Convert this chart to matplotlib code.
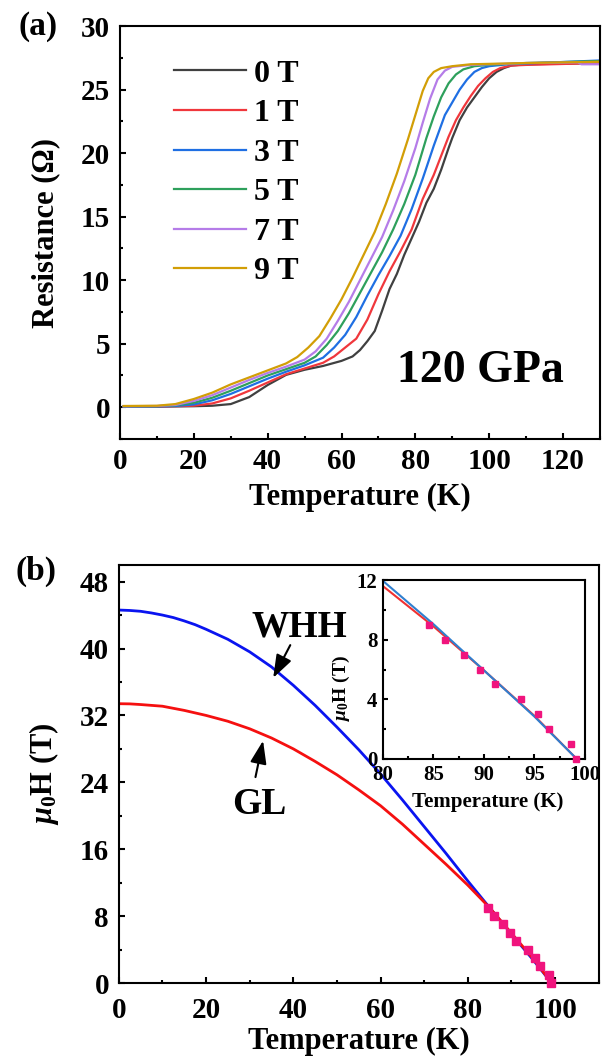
"""
Resistance vs temperature at 120 GPa and upper critical field fits
"""

import matplotlib
matplotlib.use("Agg")
import matplotlib.pyplot as plt
from matplotlib.ticker import MultipleLocator

plt.rcParams["font.family"] = ["Liberation Serif", "DejaVu Serif"]
plt.rcParams["font.weight"] = "bold"
plt.rcParams["mathtext.fontset"] = "custom"
plt.rcParams["mathtext.rm"] = "Liberation Serif:bold"
plt.rcParams["mathtext.it"] = "Liberation Serif:italic:bold"
plt.rcParams["mathtext.bf"] = "Liberation Serif:bold"

# ---- panel (a): R(T) under field ----
field_labels = ["0 T", "1 T", "3 T", "5 T", "7 T", "9 T"]
field_colors = ["#404040", "#f0373c", "#1f6fe3", "#2ea05c", "#b57ce8", "#d29e06"]

t_0T = [1, 10, 20, 25, 30, 35, 40, 45, 50, 55, 60, 63, 65, 67, 69, 71, 73, 75, 77, 79,
        81, 83, 85, 87, 89, 90, 92, 94, 96, 98, 100, 102, 104, 106, 110, 120, 130]
r_0T = [0.05, 0.05, 0.08, 0.12, 0.25, 0.8, 1.75, 2.55, 2.95, 3.25, 3.65, 4.0, 4.5, 5.2,
        6.0, 7.6, 9.3, 10.5, 12.0, 13.3, 14.6, 16.1, 17.2, 18.7, 20.4, 21.2, 22.6, 23.6,
        24.4, 25.2, 25.9, 26.4, 26.7, 26.9, 27.0, 27.05, 27.1]

t_1T = [1, 10, 20, 25, 30, 35, 40, 45, 50, 55, 58, 61, 64, 67, 70, 73, 76, 79, 82, 85,
        87, 89, 91, 93, 95, 97, 99, 101, 103, 106, 110, 130]
r_1T = [0.05, 0.05, 0.12, 0.3, 0.7, 1.3, 1.95, 2.6, 3.05, 3.5, 4.0, 4.7, 5.4, 6.9, 8.9,
        10.7, 12.3, 14.0, 16.4, 18.3, 19.8, 21.3, 22.6, 23.6, 24.5, 25.3, 25.9, 26.4,
        26.7, 26.9, 26.95, 27.1]

t_3T = [1, 10, 15, 20, 25, 30, 35, 40, 45, 50, 55, 58, 61, 64, 67, 70, 73, 76, 79, 82,
        85, 88, 90, 92, 94, 96, 98, 100, 105, 130]
r_3T = [0.05, 0.06, 0.1, 0.22, 0.55, 1.05, 1.65, 2.25, 2.8, 3.3, 3.9, 4.7, 5.7, 7.1, 8.8,
        10.4, 11.9, 13.5, 15.6, 18.0, 20.6, 23.0, 24.0, 25.0, 25.8, 26.4, 26.7, 26.85,
        27.0, 27.3]

t_5T = [1, 10, 15, 20, 25, 30, 35, 40, 45, 50, 53, 56, 59, 62, 65, 68, 71, 74, 77, 80,
        83, 85, 87, 89, 91, 93, 96, 100, 110, 130]
r_5T = [0.08, 0.08, 0.15, 0.35, 0.75, 1.3, 1.9, 2.5, 3.0, 3.5, 4.0, 4.9, 6.0, 7.4, 9.0,
        10.6, 12.2, 14.0, 16.0, 18.3, 21.2, 22.9, 24.4, 25.5, 26.2, 26.6, 26.85, 26.95,
        27.1, 27.25]

t_7T = [1, 10, 15, 20, 25, 30, 35, 40, 45, 50, 53, 56, 59, 62, 65, 68, 71, 74, 77, 80,
        82, 84, 86, 88, 90, 95, 110, 124, 125, 130]
r_7T = [0.08, 0.1, 0.18, 0.5, 0.95, 1.55, 2.15, 2.7, 3.2, 3.75, 4.4, 5.4, 6.8, 8.3, 10.0,
        11.7, 13.4, 15.5, 17.8, 20.4, 22.4, 24.3, 25.8, 26.5, 26.8, 26.95, 27.1, 27.15,
        27.0, 27.0]

t_9T = [1, 10, 15, 20, 25, 30, 35, 40, 45, 48, 51, 54, 57, 60, 63, 66, 69, 72, 75, 78,
        80, 82, 83.5, 85, 87, 90, 95, 110, 130]
r_9T = [0.1, 0.12, 0.25, 0.65, 1.15, 1.8, 2.35, 2.9, 3.45, 3.95, 4.7, 5.6, 7.0, 8.5, 10.2,
        12.0, 13.8, 16.0, 18.4, 21.1, 23.0, 24.9, 25.9, 26.4, 26.7, 26.85, 27.0, 27.1, 27.2]

# ---- panel (b): Hc2(T) ----
t_hc2 = [84.6, 86.1, 88.0, 89.6, 91.1, 93.7, 95.4, 96.5, 98.6, 99.1]
h_hc2 = [9, 8, 7, 6, 5, 4, 3, 2, 1, 0]

t_whh = [0, 2.5, 5, 7.5, 10, 12.5, 15, 17.5, 20, 25, 30, 35, 40, 45, 50, 55, 60, 65, 70,
         75, 80, 85, 90, 95, 99.2]
h_whh = [44.6, 44.55, 44.45, 44.25, 44.0, 43.7, 43.3, 42.85, 42.3, 41.1, 39.6, 37.8, 35.6,
         33.2, 30.6, 27.9, 25.0, 21.9, 18.7, 15.5, 12.2, 9.0, 5.85, 2.75, 0.0]

t_gl = [0, 2.5, 5, 7.5, 10, 12.5, 15, 17.5, 20, 25, 30, 35, 40, 45, 50, 55, 60, 65, 70,
        75, 80, 85, 90, 95, 99.2]
h_gl = [33.4, 33.38, 33.3, 33.2, 33.1, 32.85, 32.6, 32.3, 32.0, 31.3, 30.4, 29.3, 28.0,
        26.5, 24.9, 23.1, 21.2, 19.0, 16.6, 14.2, 11.7, 9.0, 5.95, 2.9, 0.0]

# inset fit lines
t_in = [80, 85, 90, 95, 99.2]
h_in_gl = [11.6, 8.9, 5.95, 2.9, 0.0]
h_in_whh = [11.95, 9.05, 5.95, 2.85, 0.0]


def style_axes(ax, lw=1.5, major=4.5, minor=2.5, size=21, xpad=6, ypad=6):
    for sp in ax.spines.values():
        sp.set_linewidth(lw)
    ax.tick_params(which="both", direction="in", width=lw, top=False, right=False)
    ax.tick_params(which="major", length=major, labelsize=size)
    ax.tick_params(which="minor", length=minor)
    ax.tick_params(axis="x", which="major", pad=xpad)
    ax.tick_params(axis="y", which="major", pad=ypad)


fig = plt.figure(figsize=(6.06, 10.64), dpi=100)

# panel (a)
ax1 = fig.add_axes([0.198, 0.5874, 0.792, 0.388])
curves = [(t_0T, r_0T), (t_1T, r_1T), (t_3T, r_3T), (t_5T, r_5T), (t_7T, r_7T), (t_9T, r_9T)]
for (t, r), lab, col in zip(curves, field_labels, field_colors):
    ax1.plot(t, r, color=col, lw=1.6, label=lab)
ax1.set_xlim(0, 130)
ax1.set_ylim(-2.5, 30)
ax1.xaxis.set_major_locator(MultipleLocator(20))
ax1.xaxis.set_minor_locator(MultipleLocator(10))
ax1.yaxis.set_major_locator(MultipleLocator(5))
ax1.yaxis.set_minor_locator(MultipleLocator(2.5))
style_axes(ax1, xpad=6.5, ypad=7)
ax1.set_xlabel("Temperature (K)", fontsize=22, fontweight="bold")
ax1.set_ylabel("Resistance (Ω)", fontsize=22, fontweight="bold")
ax1.xaxis.set_label_coords(0.5, -0.106)
ax1.yaxis.set_label_coords(-0.125, 0.5)
ax1.legend(loc="upper left", bbox_to_anchor=(0.1125, 0.92), frameon=False,
           fontsize=23, handlelength=2.25, handletextpad=0.25, labelspacing=0.32,
           borderpad=0, borderaxespad=0)
ax1.text(0.751, 0.165, "120 GPa", transform=ax1.transAxes, fontsize=33,
         fontweight="bold", ha="center", va="center")
fig.text(0.062, 0.975, "(a)", fontsize=24, fontweight="bold", ha="center", va="center")

# panel (b)
ax2 = fig.add_axes([0.196, 0.0761, 0.792, 0.393])
ax2.plot(t_whh, h_whh, color="#0a14f0", lw=2.0)
ax2.plot(t_gl, h_gl, color="#f51010", lw=2.0)
ax2.plot(t_hc2, h_hc2, "s", color="#f0147d", ms=5.5, clip_on=False, zorder=5)
ax2.set_xlim(0, 110)
ax2.set_ylim(0, 50)
ax2.xaxis.set_major_locator(MultipleLocator(20))
ax2.xaxis.set_minor_locator(MultipleLocator(10))
ax2.yaxis.set_major_locator(MultipleLocator(8))
ax2.yaxis.set_minor_locator(MultipleLocator(4))
style_axes(ax2, xpad=10, ypad=7)
ax2.set_xlabel("Temperature (K)", fontsize=22, fontweight="bold")
ax2.set_ylabel(r"$\mu_\mathrm{0}$H (T)", fontsize=22, fontweight="bold")
ax2.xaxis.set_label_coords(0.5, -0.105)
ax2.yaxis.set_label_coords(-0.12, 0.5)
ax2.annotate("", xy=(35.1, 36.2), xytext=(39.6, 40.7),
             arrowprops=dict(arrowstyle="-|>,head_length=0.7,head_width=0.25",
                             color="k", lw=1.5, mutation_scale=20))
ax2.annotate("", xy=(33.2, 29.3), xytext=(31.2, 24.3),
             arrowprops=dict(arrowstyle="-|>,head_length=0.7,head_width=0.25",
                             color="k", lw=1.5, mutation_scale=20))
ax2.text(41.5, 42.6, "WHH", fontsize=27, fontweight="bold", ha="center", va="center")
ax2.text(32.3, 21.3, "GL", fontsize=27, fontweight="bold", ha="center", va="center")
fig.text(0.059, 0.463, "(b)", fontsize=24, fontweight="bold", ha="center", va="center")

# inset
ax3 = fig.add_axes([0.632, 0.2867, 0.333, 0.168])
ax3.plot(t_in, h_in_gl, color="#f03030", lw=1.5)
ax3.plot(t_in, h_in_whh, color="#2f7fcf", lw=1.5)
ax3.plot(t_hc2, h_hc2, "s", color="#f0147d", ms=4.5, clip_on=False, zorder=5)
ax3.set_xlim(80, 100)
ax3.set_ylim(0, 12)
ax3.xaxis.set_major_locator(MultipleLocator(5))
ax3.xaxis.set_minor_locator(MultipleLocator(2.5))
ax3.yaxis.set_major_locator(MultipleLocator(4))
ax3.yaxis.set_minor_locator(MultipleLocator(2))
style_axes(ax3, lw=1.5, major=3.5, minor=2, size=15, xpad=4, ypad=4)
ax3.set_xlabel("Temperature (K)", fontsize=15, fontweight="bold")
ax3.set_ylabel(r"$\mu_\mathrm{0}$H (T)", fontsize=14, fontweight="bold")
ax3.xaxis.set_label_coords(0.52, -0.185)
ax3.yaxis.set_label_coords(-0.155, 0.4)

fig.savefig("out.png", dpi=100)
